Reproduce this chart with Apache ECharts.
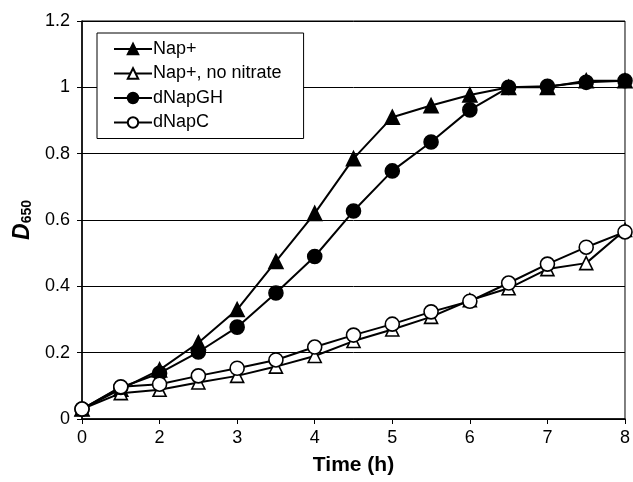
<!DOCTYPE html>
<html><head><meta charset="utf-8">
<script src="https://cdn.jsdelivr.net/npm/echarts@6/dist/echarts.min.js"></script>
<style>html,body{margin:0;padding:0;background:#fff}#c{width:633px;height:482px}</style>
</head><body><div id="c"></div>
<script>
var categories = ['0','1','2','2.5','3','3.5','4','4.5','5','5.5','6','6.5','7','7.5','8'];
var napPlus = [0.03,0.09,0.148,0.23,0.33,0.475,0.62,0.785,0.91,0.945,0.977,1.0,1.0,1.02,1.02];
var napPlusNoNitrate = [0.03,0.078,0.088,0.11,0.13,0.158,0.19,0.235,0.27,0.308,0.358,0.394,0.452,0.47,0.57];
var dNapGH = [0.03,0.095,0.138,0.202,0.277,0.38,0.49,0.627,0.748,0.835,0.932,1.0,1.003,1.015,1.02];
var dNapC = [0.03,0.097,0.105,0.13,0.153,0.178,0.217,0.253,0.286,0.323,0.355,0.41,0.467,0.518,0.564];
var yTicks = [0,0.2,0.4,0.6,0.8,1,1.2];

var font = 'Liberation Sans, Arial, sans-serif';
function mk(name, data, symbol, filled, size) {
  return {
    name: name, type: 'line', data: data, symbol: symbol, symbolSize: size,
    showAllSymbol: true,
    lineStyle: {color: '#000', width: 2},
    itemStyle: {color: filled ? '#000' : '#fff', borderColor: '#000', borderWidth: 1.6},
    emphasis: {disabled: true}, animation: false
  };
}
var chart = echarts.init(document.getElementById('c'));
chart.setOption({
  animation: false,
  grid: {left: 82, right: 8, top: 21, bottom: 63, show: true, borderColor: '#000', borderWidth: 1},
  legend: {
    orient: 'vertical', left: 97, top: 33, padding: [7, 22, 7, 16],
    backgroundColor: '#fff', borderColor: '#000', borderWidth: 1,
    itemWidth: 38, itemHeight: 13, itemGap: 6.5,
    textStyle: {fontFamily: font, fontSize: 18, color: '#000', padding: [0,0,0,-4]},
    data: ['Nap+', 'Nap+, no nitrate', 'dNapGH', 'dNapC']
  },
  xAxis: {
    type: 'category', data: categories, boundaryGap: false,
    name: 'Time (h)', nameLocation: 'middle', nameGap: 36,
    nameTextStyle: {fontFamily: font, fontSize: 21, fontWeight: 'bold', color: '#000'},
    axisLine: {lineStyle: {color: '#000', width: 1.5}},
    axisTick: {interval: 1, length: 5, lineStyle: {color: '#000'}},
    axisLabel: {interval: 1, fontFamily: font, fontSize: 18, color: '#000', margin: 10},
    splitLine: {show: false}
  },
  yAxis: {
    type: 'value', min: 0, max: 1.2, interval: 0.2,
    name: '{d|D}{s|650}', nameLocation: 'middle', nameGap: 48, nameRotate: 90,
    nameTextStyle: {rich: {
      d: {fontFamily: font, fontSize: 23, fontWeight: 'bold', fontStyle: 'italic', color: '#000'},
      s: {fontFamily: font, fontSize: 14, fontWeight: 'bold', color: '#000', padding: [9,0,0,0]}
    }},
    axisLine: {show: true, lineStyle: {color: '#000', width: 1.5}},
    axisTick: {show: true, length: 5, lineStyle: {color: '#000'}},
    axisLabel: {fontFamily: font, fontSize: 18, color: '#000', margin: 12,
      formatter: function (v) { var s = yTicks.find(function(t){return Math.abs(t-v)<1e-9;}); return String(s === undefined ? v : s); }},
    splitLine: {show: true, lineStyle: {color: '#000', width: 1}}
  },
  series: [
    mk('Nap+', napPlus, 'triangle', true, 14),
    mk('Nap+, no nitrate', napPlusNoNitrate, 'triangle', false, 13),
    mk('dNapGH', dNapGH, 'circle', true, 14),
    mk('dNapC', dNapC, 'circle', false, 14)
  ]
});
</script></body></html>
